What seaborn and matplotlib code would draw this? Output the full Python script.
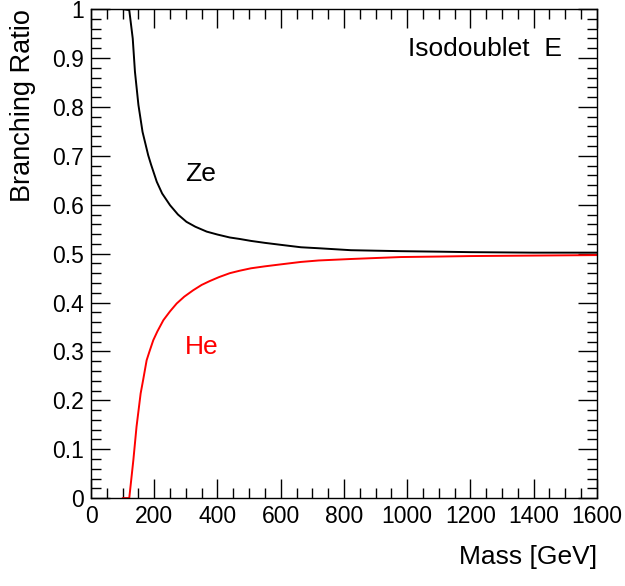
import matplotlib
matplotlib.use("Agg")
import matplotlib.pyplot as plt
from matplotlib.ticker import MultipleLocator
import seaborn as sns
import pandas as pd

# Branching ratios of the isodoublet E
mass_ze = [100, 121, 132, 139, 150, 163, 181, 190, 208, 225, 250, 275, 302,
           330, 366, 400, 439, 470, 506, 550, 600, 664, 720, 822, 900, 980,
           1100, 1200, 1400, 1600]
br_ze = [1.0, 0.998, 0.940, 0.872, 0.804, 0.749, 0.701, 0.682, 0.647, 0.623,
         0.599, 0.580, 0.565, 0.555, 0.545, 0.539, 0.533, 0.530, 0.526, 0.522,
         0.518, 0.513, 0.511, 0.507, 0.506, 0.505, 0.504, 0.503, 0.502, 0.502]

mass_he = [100, 121, 134, 144, 157, 165, 176, 185, 197, 210, 229, 250, 271,
           295, 323, 350, 376, 405, 439, 470, 506, 550, 600, 664, 720, 822,
           900, 980, 1100, 1200, 1400, 1600]
br_he = [0.0, 0.0, 0.078, 0.146, 0.214, 0.242, 0.282, 0.300, 0.323, 0.341,
         0.364, 0.382, 0.398, 0.412, 0.425, 0.436, 0.444, 0.452, 0.460, 0.465,
         0.470, 0.474, 0.478, 0.483, 0.486, 0.489, 0.491, 0.493, 0.494, 0.495,
         0.496, 0.497]

sns.set_theme(style="ticks")
plt.rcParams["font.family"] = ["Liberation Sans", "DejaVu Sans"]

df_ze = pd.DataFrame({"Mass": mass_ze, "BR": br_ze})
df_he = pd.DataFrame({"Mass": mass_he, "BR": br_he})

fig = plt.figure(figsize=(6.25, 5.86), dpi=100)
ax = fig.add_axes([0.1456, 0.150, 0.8094, 0.8344])

sns.lineplot(x="Mass", y="BR", data=df_ze, color="black", linewidth=1.4, ax=ax)
sns.lineplot(x="Mass", y="BR", data=df_he, color="red", linewidth=1.4, ax=ax)

ax.set_xlim(0, 1600)
ax.set_ylim(0, 1)
ax.xaxis.set_major_locator(MultipleLocator(200))
ax.xaxis.set_minor_locator(MultipleLocator(50))
ax.set_yticks([i / 10 for i in range(11)])
ax.set_yticklabels(["0", "0.1", "0.2", "0.3", "0.4", "0.5", "0.6", "0.7", "0.8", "0.9", "1"])
ax.yaxis.set_minor_locator(MultipleLocator(0.02))

ax.tick_params(which="both", direction="in", top=True, right=True, color="black",
               width=1, labelsize=16.5, labelcolor="black")
ax.tick_params(which="major", length=14, pad=5)
ax.tick_params(which="minor", length=7)
for s in ax.spines.values():
    s.set_color("black")
    s.set_linewidth(1)

ax.set_xlabel("Mass [GeV]", fontsize=19, color="black", loc="right")
ax.set_ylabel("Branching Ratio", fontsize=19.5, color="black", loc="top")
ax.xaxis.set_label_coords(1.0, -0.095)
ax.yaxis.set_label_coords(-0.108, 1.0)

ax.text(0.627, 0.904, "Isodoublet  E", transform=ax.transAxes, fontsize=19, color="black")
ax.text(0.186, 0.648, "Ze", transform=ax.transAxes, fontsize=19, color="black")
ax.text(0.186, 0.294, "He", transform=ax.transAxes, fontsize=19, color="red")

fig.savefig("out.png", dpi=100, facecolor="white")
